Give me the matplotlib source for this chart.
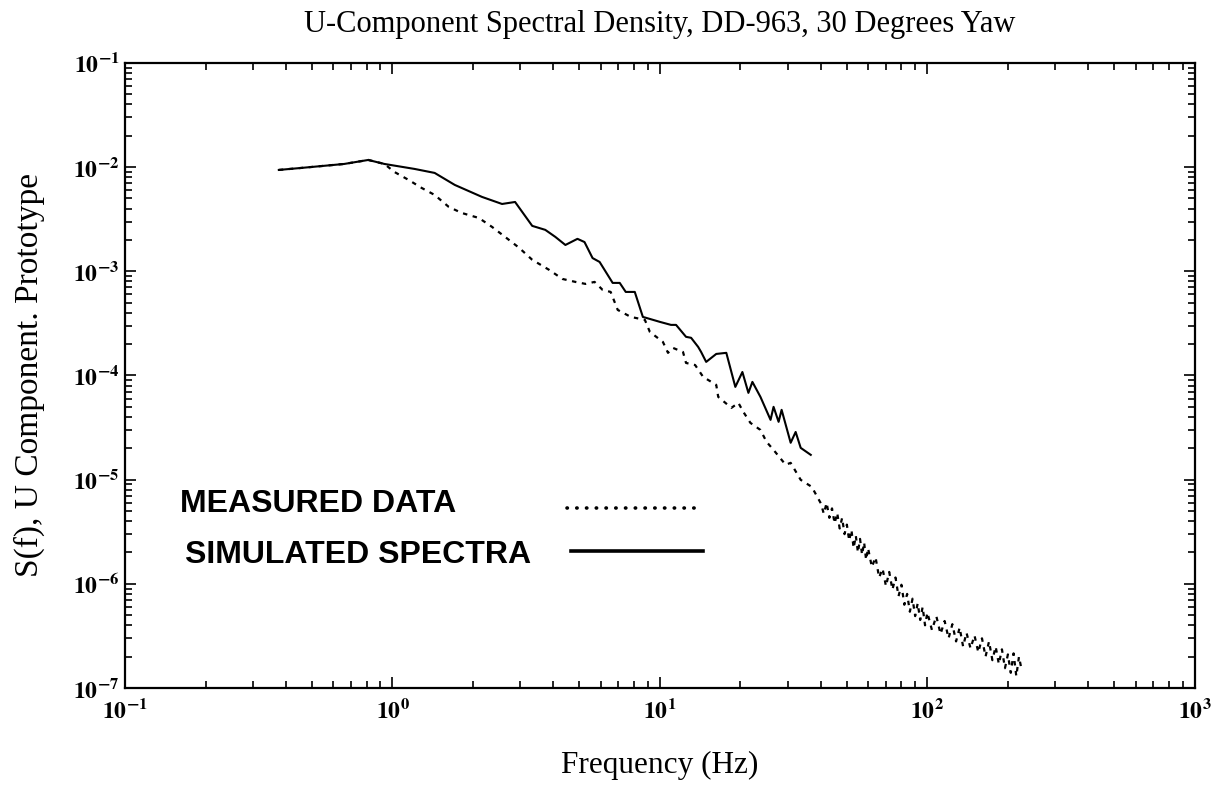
import numpy as np
import matplotlib
matplotlib.use("Agg")
import matplotlib.pyplot as plt
from matplotlib.ticker import LogLocator, FuncFormatter, NullFormatter

plt.rcParams['font.family'] = 'Liberation Serif'
plt.rcParams['mathtext.fontset'] = 'stix'

# measured spectrum (Hz, S(f))
meas_f = [0.376, 0.455, 0.660, 0.812, 0.933, 1.017, 1.149, 1.285, 1.438, 1.624,
          1.817, 2.105, 2.356, 2.637, 2.977, 3.331, 3.859, 4.318, 4.833, 5.270,
          5.697, 6.107, 6.543, 6.954, 7.780, 8.784, 9.171, 10.26, 10.72, 11.19,
          12.20, 12.52, 13.54, 14.51, 16.24, 16.52, 18.50, 19.65, 20.51, 21.79,
          23.76, 25.03, 26.60, 29.51, 30.82, 33.60, 36.96,
          40, 41, 42, 43, 44, 45, 46, 47, 48, 49,
          50, 51, 52, 53, 54, 55, 56, 57, 58, 59,
          60, 62, 64, 66, 68, 70, 72, 74, 76, 78,
          80, 82, 84, 86, 88, 90, 92, 94, 96, 98,
          100, 104, 108, 112, 116, 120, 124, 128, 132, 136,
          140, 145, 150, 155, 160, 165, 170, 175, 180, 185,
          190, 195, 200, 205, 210, 215, 220, 225]
meas_s = [9.40e-3, 9.82e-3, 1.073e-2, 1.172e-2, 1.073e-2, 8.99e-3, 7.54e-3, 6.32e-3, 5.41e-3, 4.15e-3,
          3.63e-3, 3.25e-3, 2.67e-3, 2.14e-3, 1.68e-3, 1.29e-3, 1.03e-3, 8.45e-4, 7.91e-4, 7.57e-4,
          7.91e-4, 6.63e-4, 6.34e-4, 4.26e-4, 3.65e-4, 3.42e-4, 2.62e-4, 2.10e-4, 1.65e-4, 1.84e-4,
          1.68e-4, 1.32e-4, 1.26e-4, 9.69e-5, 8.12e-5, 6.23e-5, 4.89e-5, 5.46e-5, 4.47e-5, 3.51e-5,
          3.00e-5, 2.31e-5, 1.93e-5, 1.39e-5, 1.45e-5, 9.96e-6, 8.53e-6,
          5.9e-6, 4.7e-6, 6.0e-6, 4.3e-6, 5.3e-6, 3.8e-6, 4.8e-6, 3.4e-6, 4.3e-6, 3.0e-6,
          3.7e-6, 2.6e-6, 3.3e-6, 2.2e-6, 2.9e-6, 2.0e-6, 2.7e-6, 1.9e-6, 2.5e-6, 1.7e-6,
          2.2e-6, 1.45e-6, 1.8e-6, 1.15e-6, 1.4e-6, 9.5e-7, 1.3e-6, 8.8e-7, 1.15e-6, 7.6e-7,
          9.8e-7, 6.3e-7, 8.0e-7, 5.4e-7, 7.2e-7, 4.9e-7, 6.5e-7, 4.5e-7, 6.0e-7, 4.0e-7,
          5.3e-7, 3.6e-7, 4.9e-7, 3.3e-7, 4.4e-7, 3.0e-7, 4.1e-7, 2.8e-7, 3.8e-7, 2.5e-7,
          3.4e-7, 2.4e-7, 3.2e-7, 2.2e-7, 3.0e-7, 2.0e-7, 2.8e-7, 1.85e-7, 2.5e-7, 1.7e-7,
          2.35e-7, 1.55e-7, 2.1e-7, 1.4e-7, 2.15e-7, 1.3e-7, 2.0e-7, 1.5e-7]

# simulated spectrum (Hz, S(f))
sim_f = [0.376, 0.455, 0.660, 0.812, 0.933, 1.210, 1.438, 1.710, 2.161, 2.569,
         2.874, 3.331, 3.727, 4.064, 4.432, 4.917, 5.224, 5.600, 5.950, 6.657,
         7.075, 7.451, 8.054, 8.634, 9.171, 10.0, 11.00, 11.49, 12.52, 13.08,
         13.90, 14.26, 14.89, 16.24, 17.71, 19.14, 20.34, 21.42, 22.17, 23.76,
         25.92, 26.60, 27.78, 28.51, 30.82, 32.17, 33.60, 36.64]
sim_s = [9.40e-3, 9.82e-3, 1.073e-2, 1.172e-2, 1.073e-2, 9.61e-3, 8.80e-3, 6.75e-3, 5.18e-3, 4.43e-3,
         4.63e-3, 2.73e-3, 2.50e-3, 2.14e-3, 1.79e-3, 2.05e-3, 1.91e-3, 1.34e-3, 1.23e-3, 7.74e-4,
         7.74e-4, 6.34e-4, 6.34e-4, 3.65e-4, 3.49e-4, 3.27e-4, 3.06e-4, 3.06e-4, 2.35e-4, 2.30e-4,
         1.88e-4, 1.68e-4, 1.35e-4, 1.61e-4, 1.65e-4, 7.77e-5, 1.08e-4, 6.81e-5, 8.68e-5, 6.23e-5,
         3.75e-5, 5.00e-5, 3.59e-5, 4.68e-5, 2.26e-5, 2.87e-5, 2.02e-5, 1.73e-5]

labels = ['MEASURED DATA', 'SIMULATED SPECTRA']
x_decades = [1e-1, 1e0, 1e1, 1e2, 1e3]
y_decades = [1e-7, 1e-6, 1e-5, 1e-4, 1e-3, 1e-2, 1e-1]

fig = plt.figure(figsize=(12.17, 7.92), dpi=100)
ax = fig.add_axes([0.1027, 0.1313, 0.8791, 0.7892])

ax.plot(meas_f, meas_s, color='black', lw=1.6, linestyle=(0, (2, 2.5)))
ax.plot(sim_f, sim_s, color='black', lw=1.5)

ax.set_xscale('log')
ax.set_yscale('log')
ax.set_xlim(0.1, 1000)
ax.set_ylim(1e-7, 1e-1)


def pow10(v, pos):
    e = int(round(np.log10(v)))
    return r'$\mathbf{10^{%d}}$' % e


ax.set_xticks(x_decades)
ax.set_yticks(y_decades)
for axis in (ax.xaxis, ax.yaxis):
    axis.set_minor_locator(LogLocator(base=10, subs=np.arange(2, 10), numticks=12))
    axis.set_major_formatter(FuncFormatter(pow10))
    axis.set_minor_formatter(NullFormatter())

ax.tick_params(which='both', direction='in', top=True, right=True, width=1.2,
               labelsize=17)
ax.tick_params(which='major', length=8)
ax.tick_params(which='minor', length=5)
ax.tick_params(axis='x', pad=8)
ax.tick_params(axis='y', pad=4)
for sp in ax.spines.values():
    sp.set_linewidth(1.6)

ax.set_title('U-Component Spectral Density, DD-963, 30 Degrees Yaw',
             fontsize=22, pad=22)
ax.set_xlabel('Frequency (Hz)', fontsize=22.5, labelpad=20)
ax.set_ylabel('S(f), U Component. Prototype', fontsize=24, labelpad=20)

# key drawn as text with sample strokes to the right
ax.text(0.0513, 0.2816, labels[0], transform=ax.transAxes, fontsize=23,
        family='Liberation Sans', weight='bold', va='baseline', ha='left')
ax.text(0.056, 0.200, labels[1], transform=ax.transAxes, fontsize=23,
        family='Liberation Sans', weight='bold', va='baseline', ha='left')
ax.plot([0.413, 0.536], [0.288, 0.288], transform=ax.transAxes, color='black',
        lw=2.6, linestyle=(0, (0.1, 2.6)), dash_capstyle='round')
ax.plot([0.417, 0.540], [0.219, 0.219], transform=ax.transAxes, color='black',
        lw=2.6)

fig.savefig('out.png', dpi=100)
